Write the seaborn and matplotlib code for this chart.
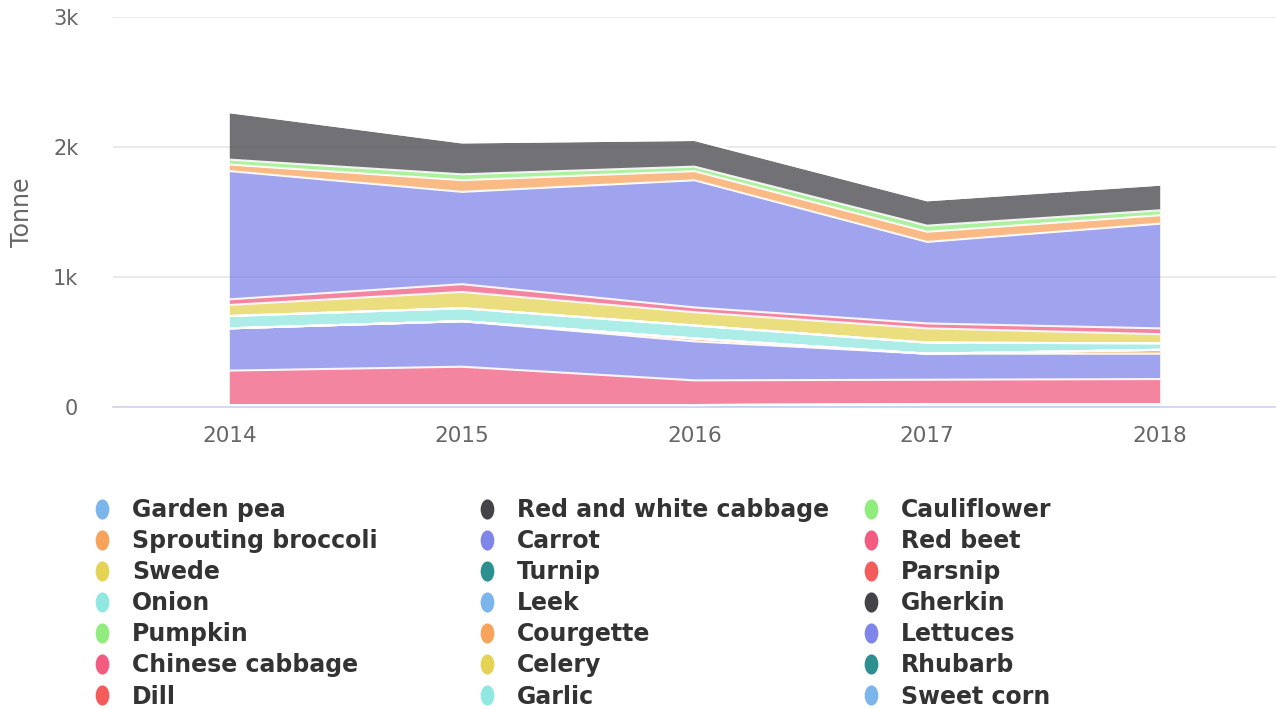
import matplotlib
matplotlib.use("Agg")
import numpy as np
import matplotlib.pyplot as plt
from matplotlib.lines import Line2D
from matplotlib.path import Path
from matplotlib.ticker import FixedLocator, FuncFormatter
import seaborn as sns

years = [2014, 2015, 2016, 2017, 2018]

# tonnes per year, legend order (first series sits on top of the stack)
garden_pea = [0, 0, 0, 0, 0]
red_white_cabbage = [365, 245, 205, 195, 197]
cauliflower = [38, 45, 35, 47, 38]
sprouting_broccoli = [50, 90, 70, 78, 65]
carrot = [987, 710, 978, 627, 805]
red_beet = [43, 60, 37, 38, 45]
swede = [85, 125, 102, 110, 70]
turnip = [0, 0, 0, 0, 0]
parsnip = [0, 0, 0, 0, 0]
onion = [95, 100, 100, 85, 50]
leek = [0, 0, 0, 0, 0]
gherkin = [0, 0, 0, 0, 0]
pumpkin = [0, 0, 0, 0, 0]
courgette = [0, 0, 22, 0, 30]
lettuces = [325, 350, 300, 200, 195]
chinese_cabbage = [265, 295, 190, 190, 195]
celery = [0, 0, 0, 0, 0]
rhubarb = [0, 0, 0, 0, 0]
dill = [0, 0, 0, 0, 0]
garlic = [0, 0, 0, 0, 0]
sweet_corn = [15, 15, 15, 20, 20]

names = ["Garden pea", "Red and white cabbage", "Cauliflower",
         "Sprouting broccoli", "Carrot", "Red beet",
         "Swede", "Turnip", "Parsnip",
         "Onion", "Leek", "Gherkin",
         "Pumpkin", "Courgette", "Lettuces",
         "Chinese cabbage", "Celery", "Rhubarb",
         "Dill", "Garlic", "Sweet corn"]
values = [garden_pea, red_white_cabbage, cauliflower, sprouting_broccoli,
          carrot, red_beet, swede, turnip, parsnip, onion, leek, gherkin,
          pumpkin, courgette, lettuces, chinese_cabbage, celery, rhubarb,
          dill, garlic, sweet_corn]

base_colors = ["#7cb5ec", "#434348", "#90ed7d", "#f7a35c", "#8085e9",
               "#f15c80", "#e4d354", "#2b908f", "#f45b5b", "#91e8e1"]
palette = sns.color_palette(base_colors)
colors = [palette[i % len(palette)] for i in range(len(names))]

sns.set_theme(style="white")
plt.rcParams["font.family"] = ["DejaVu Sans"]

fig = plt.figure(figsize=(12.76, 7.09), dpi=100)
W, H = 1276, 709
ax = fig.add_axes([113 / W, 1 - 407 / H, 1163 / W, 390 / H])

# bottom of stack = last series
stack_vals = values[::-1]
stack_cols = colors[::-1]
ax.stackplot(years, *stack_vals, colors=stack_cols, alpha=0.75, linewidth=0, zorder=2)
tops = np.cumsum(np.array(stack_vals, dtype=float), axis=0)
for row in tops:
    ax.plot(years, row, color="white", lw=1.5, alpha=0.9, zorder=3)

ax.set_xlim(2013.5, 2018.5)
ax.set_ylim(0, 3000)
ax.xaxis.set_major_locator(FixedLocator(years))
ax.yaxis.set_major_locator(FixedLocator([0, 1000, 2000, 3000]))
ax.yaxis.set_major_formatter(FuncFormatter(lambda v, p: "0" if v == 0 else f"{int(v / 1000)}k"))
ax.yaxis.grid(True, color="#e6e6e6", lw=1.2, zorder=0)
ax.xaxis.grid(False)
ax.set_axisbelow(True)
for s in ["top", "left", "right"]:
    ax.spines[s].set_visible(False)
ax.spines["bottom"].set_color("#ccd6eb")
ax.spines["bottom"].set_linewidth(1.2)
ax.tick_params(axis="y", length=0, pad=25, labelsize=15, labelcolor="#666666")
ax.tick_params(axis="x", length=0, pad=14, labelsize=15.5, labelcolor="#666666")

fig.text(22 / W, 1 - 212 / H, "Tonne", rotation=90, ha="center", va="center",
         color="#666666", fontsize=17)

# legend: three columns, row-wise order
circ = Path.unit_circle()
ellipse = Path(circ.vertices * np.array([0.68, 1.0]), circ.codes)
fs = 17.0
col_x = [91, 476, 860]
for c in range(3):
    idx = list(range(c, len(names), 3))
    handles = [Line2D([], [], linestyle="none", marker=ellipse, markersize=14.5,
                      markerfacecolor=colors[i], markeredgewidth=0) for i in idx]
    labels = [names[i] for i in idx]
    leg = fig.legend(handles, labels, loc="upper left",
                     bbox_to_anchor=(col_x[c] / W, 1 - 498 / H),
                     frameon=False, borderpad=0, borderaxespad=0,
                     handlelength=0.97, handletextpad=0.76, labelspacing=0.3,
                     prop={"size": fs, "weight": "bold"})
    for t in leg.get_texts():
        t.set_color("#333333")

fig.savefig("out.png", dpi=100)
